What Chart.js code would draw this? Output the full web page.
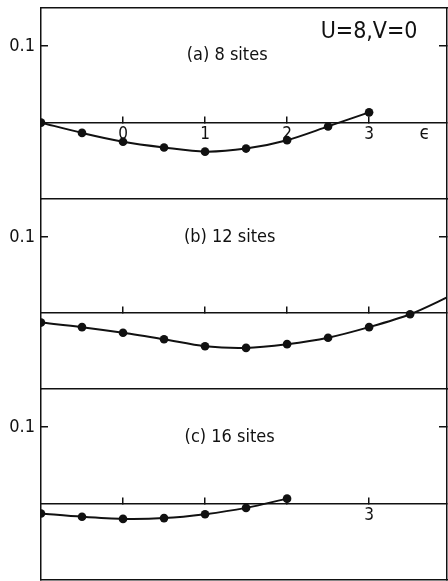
<!DOCTYPE html>
<html>
<head>
<meta charset="utf-8">
<script src="https://cdn.jsdelivr.net/npm/chart.js@4/dist/chart.umd.min.js"></script>
<style>
  body { margin: 0; background: #fff; }
  #wrap { position: relative; width: 448px; height: 581px; }
  #wrap canvas { position: absolute; left: 0; top: 0; }
</style>
</head>
<body>
<div id="wrap">
  <canvas id="panelA" width="448" height="581"></canvas>
  <canvas id="panelB" width="448" height="581"></canvas>
  <canvas id="panelC" width="448" height="581"></canvas>
</div>
<script>
// Dados (epsilon no eixo x)
const epsilon = [-1, -0.5, 0, 0.5, 1, 1.5, 2, 2.5, 3, 3.5, 4];
const sites8 = [0, -0.0135, -0.025, -0.0325, -0.038, -0.034, -0.023, -0.005, 0.0134];
const sites12 = [-0.0126, -0.0186, -0.026, -0.0346, -0.0437, -0.0459, -0.041, -0.0325, -0.0186, -0.0017, 0.023];
const sites16 = [-0.013, -0.0173, -0.020, -0.019, -0.0139, -0.0056, 0.0065];

const xTicks = [0, 1, 2, 3];
const yTicks = [0.1];
const xLabelsA = ['0', '1', '2', '3'];
const xLabelsB = ['', '', '', ''];
const xLabelsC = ['', '', '', '3'];
const panelTitles = ['(a) 8 sites', '(b) 12 sites', '(c) 16 sites'];
const headerText = 'U=8,V=0';
const axisSymbol = 'ϵ';

const FONT = "'Liberation Sans Narrow', 'DejaVu Sans Condensed', 'Liberation Sans', sans-serif";
const INK = '#111';

function toPoints(values) {
    return values.map((v, i) => ({ x: epsilon[i], y: v }));
}

// Plugin para os textos dentro do painel
const panelText = {
    id: 'panelText',
    afterDraw(chart, args, opts) {
        const ctx = chart.ctx;
        const xs = chart.scales.x;
        const ys = chart.scales.y;
        ctx.save();
        ctx.fillStyle = INK;
        ctx.textAlign = 'center';
        ctx.textBaseline = 'middle';
        ctx.font = '18px ' + FONT;
        ctx.fillText(opts.title, xs.getPixelForValue(opts.titleAt[0]), ys.getPixelForValue(opts.titleAt[1]));
        if (opts.header) {
            ctx.font = '23px ' + FONT;
            ctx.fillText(opts.header, xs.getPixelForValue(3.0), ys.getPixelForValue(0.1186));
        }
        if (opts.symbol) {
            ctx.font = '19px ' + FONT;
            ctx.fillText(opts.symbol, xs.getPixelForValue(3.68), ys.getPixelForValue(-0.015));
        }
        ctx.restore();
    }
};

function fixSize(prop, size) {
    return function(scale) {
        scale[prop] = size;
        scale.paddingTop = 0;
        scale.paddingBottom = 0;
        scale.paddingLeft = 0;
        scale.paddingRight = 0;
    };
}

function makePanel(id, values, xLabels, padTop, padBottom, text, withBottom) {
    const ctx = document.getElementById(id).getContext('2d');
    return new Chart(ctx, {
        type: 'line',
        data: {
            datasets: [{
                data: toPoints(values),
                borderColor: INK,
                backgroundColor: INK,
                borderWidth: 2,
                pointRadius: 4.3,
                pointBorderWidth: 0,
                tension: 0.3,
                fill: false
            }]
        },
        plugins: [panelText],
        options: {
            responsive: false,
            animation: false,
            devicePixelRatio: 1,
            layout: {
                autoPadding: false,
                padding: { top: padTop, bottom: padBottom, left: 0, right: 1 }
            },
            plugins: {
                legend: { display: false },
                tooltip: { enabled: false },
                panelText: text
            },
            scales: {
                x: {
                    type: 'linear',
                    position: { y: 0 },
                    min: -1,
                    max: 3.95,
                    afterBuildTicks: s => { s.ticks = xTicks.map(v => ({ value: v })); },
                    afterFit: fixSize('height', 0),
                    grid: { drawOnChartArea: false, tickLength: -7, color: INK, lineWidth: 1.5 },
                    border: { display: true, color: INK, width: 1.5 },
                    ticks: {
                        padding: 9,
                        color: INK,
                        font: { family: FONT, size: 17 },
                        maxRotation: 0,
                        callback: (v, i) => xLabels[i]
                    }
                },
                xTop: {
                    type: 'linear',
                    position: 'top',
                    min: -1,
                    max: 3.95,
                    afterFit: fixSize('height', 0),
                    grid: { display: false },
                    border: { display: true, color: INK, width: 1.5 },
                    ticks: { display: false }
                },
                xBottom: {
                    type: 'linear',
                    position: 'bottom',
                    min: -1,
                    max: 3.95,
                    display: withBottom,
                    afterFit: fixSize('height', 0),
                    grid: { display: false },
                    border: { display: true, color: INK, width: 1.5 },
                    ticks: { display: false }
                },
                y: {
                    type: 'linear',
                    position: 'left',
                    min: -0.1,
                    max: 0.15,
                    afterBuildTicks: s => { s.ticks = yTicks.map(v => ({ value: v })); },
                    afterFit: fixSize('width', 41),
                    grid: { drawOnChartArea: false, tickLength: -7, color: INK, lineWidth: 1.5 },
                    border: { display: true, color: INK, width: 1.5 },
                    ticks: {
                        padding: 13,
                        color: INK,
                        font: { family: FONT, size: 18 },
                        callback: v => v.toFixed(1)
                    }
                },
                yRight: {
                    type: 'linear',
                    position: 'right',
                    min: -0.1,
                    max: 0.15,
                    afterBuildTicks: s => { s.ticks = yTicks.map(v => ({ value: v })); },
                    afterFit: fixSize('width', 0),
                    grid: { drawOnChartArea: false, tickLength: -8, color: INK, lineWidth: 1.5 },
                    border: { display: true, color: INK, width: 1.5 },
                    ticks: { display: false }
                }
            }
        }
    });
}

makePanel('panelA', sites8, xLabelsA, 8, 382,
    { title: panelTitles[0], titleAt: [1.27, 0.088], header: headerText, symbol: axisSymbol }, false);
makePanel('panelB', sites12, xLabelsB, 199, 192,
    { title: panelTitles[1], titleAt: [1.30, 0.099] }, false);
makePanel('panelC', sites16, xLabelsC, 389, 1,
    { title: panelTitles[2], titleAt: [1.30, 0.087] }, true);
</script>
</body>
</html>
